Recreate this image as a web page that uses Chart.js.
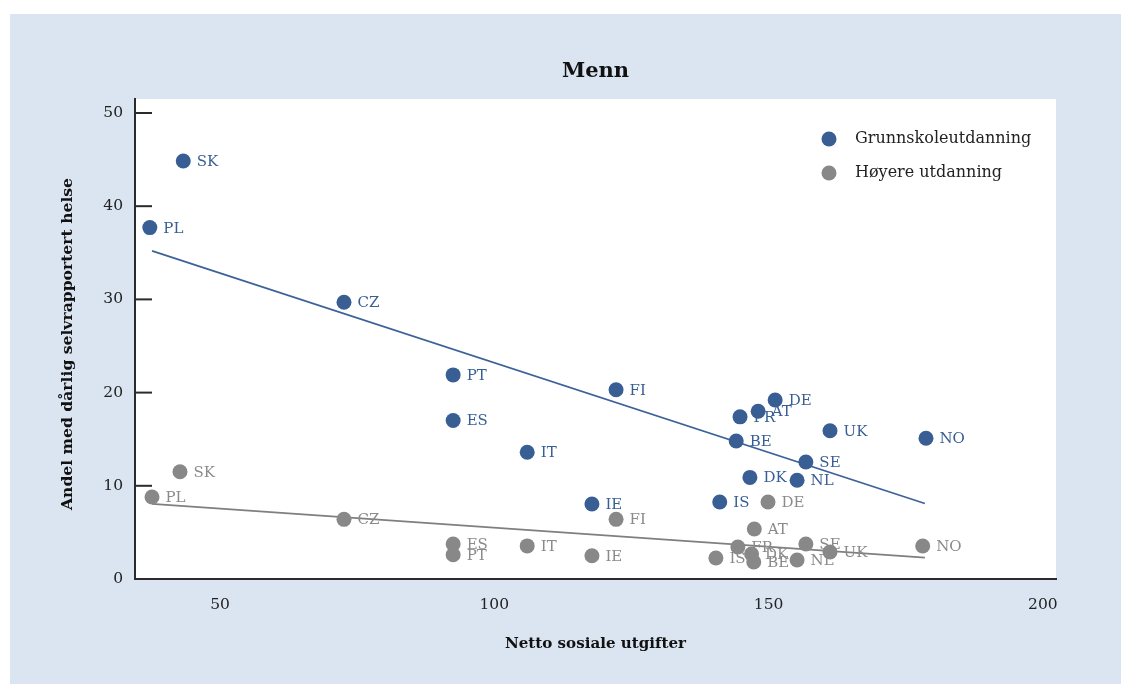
<!DOCTYPE html>
<html><head><meta charset="utf-8">
<script src="https://cdn.jsdelivr.net/npm/chart.js@4.4.0/dist/chart.umd.min.js"></script>
<style>html,body{margin:0;padding:0;background:#fff;overflow:hidden}#wrap{position:absolute;left:0;top:0;width:1131px;height:684px}</style>
</head><body><div id="wrap"><canvas id="c" width="1131" height="684"></canvas></div>
<script>
const chartTitle = 'Menn';
const xTitle = 'Netto sosiale utgifter';
const yTitle = 'Andel med dårlig selvrapportert helse';
const seriesNames = ['Grunnskoleutdanning', 'Høyere utdanning'];

const countriesBasic = ['SK','PL','CZ','PT','ES','IT','FI','IE','IS','FR','AT','DE','BE','DK','NL','SE','UK','NO'];
const xBasic = [43.3,37.2,72.6,92.5,92.5,106.0,122.2,117.8,141.1,144.8,148.1,151.2,144.1,146.6,155.2,156.8,161.2,178.7];
const yBasic = [44.85,37.7,29.7,21.9,17.0,13.6,20.3,8.05,8.26,17.4,18.0,19.2,14.8,10.9,10.6,12.55,15.9,15.1];

const countriesHigher = ['SK','PL','CZ','ES','PT','IT','IE','FI','DE','AT','FR','SE','UK','NO','IS','DK','BE','NL'];
const xHigher = [42.7,37.6,72.6,92.5,92.5,106.0,117.8,122.2,149.9,147.4,144.4,156.8,161.2,178.1,140.4,146.9,147.3,155.2];
const yHigher = [11.5,8.8,6.4,3.75,2.6,3.55,2.5,6.4,8.26,5.36,3.43,3.76,2.9,3.54,2.25,2.68,1.82,2.04];

const trendX = [37.6, 178.5];
const trendBasicY = [35.2, 8.1];
const trendHigherY = [8.05, 2.3];

const xTicks = [50, 100, 150, 200];
const yTicks = [0, 10, 20, 30, 40, 50];

const BLUE = '#385e94';
const GREY = '#888888';
const SERIF = "'DejaVu Serif', serif";

const toPts = (xs, ys) => xs.map((x, i) => ({x: x, y: ys[i]}));

const bgPlugin = {
  id: 'bg',
  beforeDraw(chart) {
    const ctx = chart.ctx, a = chart.chartArea;
    ctx.save();
    ctx.fillStyle = '#dbe5f1';
    ctx.fillRect(10, 14, 1111, 670);
    ctx.fillStyle = '#ffffff';
    ctx.fillRect(a.left, a.top, a.right - a.left, a.bottom - a.top);
    ctx.restore();
  }
};

const yTickPlugin = {
  id: 'yTickMarks',
  afterDraw(chart) {
    const ctx = chart.ctx, a = chart.chartArea, ys = chart.scales.y;
    ctx.save();
    ctx.strokeStyle = '#2b2b2b';
    ctx.lineWidth = 2;
    ys.ticks.forEach(t => {
      const py = ys.getPixelForValue(t.value);
      ctx.beginPath();
      ctx.moveTo(a.left, py);
      ctx.lineTo(a.left + 17, py);
      ctx.stroke();
    });
    // y-axis title
    ctx.fillStyle = '#111';
    ctx.font = "bold 15.6px " + SERIF;
    ctx.textAlign = 'center';
    ctx.textBaseline = 'middle';
    ctx.translate(68, (a.top + a.bottom) / 2 + 5);
    ctx.rotate(-Math.PI / 2);
    ctx.fillText(yTitle, 0, 0);
    ctx.restore();
  }
};

const labelPlugin = {
  id: 'pointLabels',
  afterDatasetsDraw(chart) {
    const ctx = chart.ctx;
    ctx.save();
    ctx.font = "15px " + SERIF;
    ctx.textBaseline = 'middle';
    ctx.textAlign = 'left';
    chart.data.datasets.forEach((ds, di) => {
      if (!ds.pointNames) return;
      const meta = chart.getDatasetMeta(di);
      ctx.fillStyle = ds.labelColor;
      meta.data.forEach((el, i) => {
        ctx.fillText(ds.pointNames[i], el.x + 13.5, el.y + 1);
      });
    });
    ctx.restore();
  }
};

const legendPlugin = {
  id: 'customLegend',
  afterDraw(chart) {
    const ctx = chart.ctx, a = chart.chartArea;
    ctx.save();
    ctx.font = "16px " + SERIF;
    ctx.textBaseline = 'middle';
    ctx.textAlign = 'left';
    [0, 1].forEach(di => {
      const ds = chart.data.datasets[di];
      const cx = a.right - 227, cy = a.top + 40 + di * 34;
      ctx.fillStyle = ds.backgroundColor;
      ctx.beginPath();
      ctx.arc(cx, cy, 7.5, 0, Math.PI * 2);
      ctx.fill();
      ctx.fillStyle = '#222222';
      ctx.fillText(ds.label, cx + 26, cy);
    });
    ctx.restore();
  }
};

new Chart(document.getElementById('c'), {
  type: 'scatter',
  data: {
    datasets: [
      {label: seriesNames[0], data: toPts(xBasic, yBasic), pointNames: countriesBasic, labelColor: BLUE,
       backgroundColor: BLUE, borderWidth: 0, pointRadius: 7.5, pointHoverRadius: 7.5},
      {label: seriesNames[1], data: toPts(xHigher, yHigher), pointNames: countriesHigher, labelColor: '#8a8a8a',
       backgroundColor: GREY, borderWidth: 0, pointRadius: 7.5, pointHoverRadius: 7.5},
      {label: 'trend1', data: toPts(trendX, trendBasicY), showLine: true, pointRadius: 0,
       borderColor: '#3d6299', borderWidth: 1.8, backgroundColor: 'transparent'},
      {label: 'trend2', data: toPts(trendX, trendHigherY), showLine: true, pointRadius: 0,
       borderColor: '#7f7f7f', borderWidth: 1.8, backgroundColor: 'transparent'}
    ]
  },
  options: {
    responsive: false,
    animation: false,
    devicePixelRatio: 1,
    events: [],
    layout: {padding: {top: 14, left: 10, right: 75, bottom: 0}},
    plugins: {
      legend: {display: false},
      tooltip: {enabled: false},
      title: {display: true, text: chartTitle, fullSize: false, color: '#111',
        font: {family: SERIF, size: 21, weight: 'bold'}, padding: {top: 45.4, bottom: 14.4}}
    },
    scales: {
      x: {
        type: 'linear', min: 34.5, max: 202.4,
        afterBuildTicks: s => { s.ticks = xTicks.map(v => ({value: v})); },
        afterFit: s => { s.height = 105; },
        grid: {display: false, drawTicks: false},
        border: {display: true, color: '#2b2b2b', width: 2},
        ticks: {padding: 16.7, color: '#222', font: {family: SERIF, size: 15.5}, maxRotation: 0},
        title: {display: true, text: xTitle, color: '#111', font: {family: SERIF, size: 15.1, weight: 'bold'},
          padding: {top: 0, bottom: 31}}
      },
      y: {
        type: 'linear', min: 0, max: 51.5,
        afterBuildTicks: s => { s.ticks = yTicks.map(v => ({value: v})); },
        afterFit: s => { s.width = 125; },
        grid: {display: false, drawTicks: false},
        border: {display: true, color: '#2b2b2b', width: 2},
        ticks: {padding: 12, color: '#222', font: {family: SERIF, size: 15.5}},
        title: {display: false}
      }
    }
  },
  plugins: [bgPlugin, yTickPlugin, labelPlugin, legendPlugin]
});
</script>
</body></html>
